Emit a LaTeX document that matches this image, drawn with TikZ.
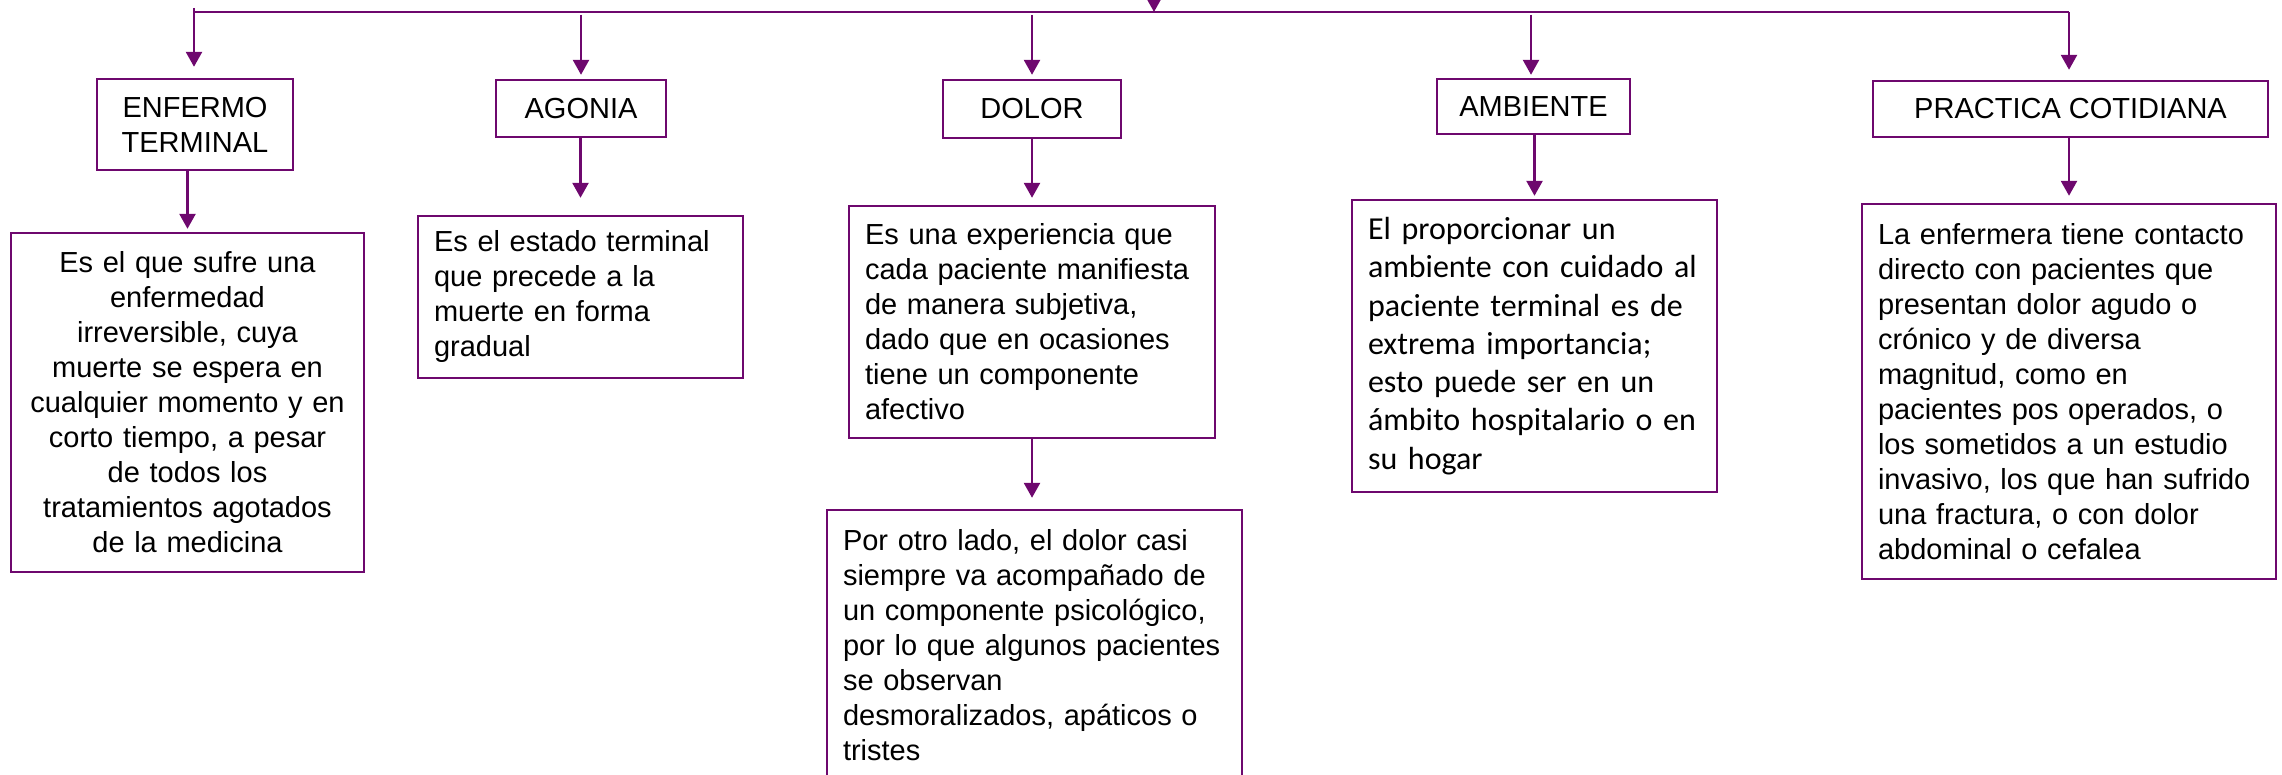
\documentclass[tikz,border=0pt]{standalone}
\usepackage{fontspec}
\setmainfont{Liberation Sans}
\newfontfamily\calibrifont{Carlito}
\usetikzlibrary{arrows.meta}

\definecolor{morado}{RGB}{110,8,110}

\begin{document}
\begin{tikzpicture}
  [x=1pt,y=-1pt,
   conn/.style={morado,line width=2.6pt},
   arr/.style={conn,-{Triangle[length=15pt,width=16pt]}},
   titulo/.style={draw=morado,line width=2.4pt,align=center,inner sep=0pt,
     font=\fontsize{29}{35}\selectfont},
   texto/.style={draw=morado,line width=2.4pt,align=left,inner xsep=16pt,inner ysep=0pt,
     font=\fontsize{29}{35}\selectfont}]
  \useasboundingbox (0,0) rectangle (2282,775);

  % titulos
  \node[titulo,minimum width=196pt,minimum height=91pt] (enf) at (195,124.5)  {ENFERMO\\TERMINAL};
  \node[titulo,minimum width=170pt,minimum height=57pt] (ago) at (581,108.5)  {AGONIA};
  \node[titulo,minimum width=178pt,minimum height=58pt] (dol) at (1032,109)   {DOLOR};
  \node[titulo,minimum width=193pt,minimum height=55pt] (amb) at (1533.5,106.5) {AMBIENTE};
  \node[titulo,minimum width=395pt,minimum height=56pt] (pra) at (2070.5,109) {PRACTICA COTIDIANA};

  % definiciones
  \node[texto,align=center,inner xsep=6pt,text width=341pt,minimum height=339pt] (enfd) at (187.5,402.5)
    {Es el que sufre una\\enfermedad\\irreversible, cuya\\muerte se espera en\\cualquier momento y en\\corto tiempo, a pesar\\de todos los\\tratamientos agotados\\de la medicina};
  \node[texto,text width=293pt,minimum height=162pt] (agod) at (580.5,297)
    {Es el estado terminal\\que precede a la\\muerte en forma\\gradual};
  \node[texto,text width=334pt,minimum height=232pt] (dold) at (1032,322)
    {Es una experiencia que\\cada paciente manifiesta\\de manera subjetiva,\\dado que en ocasiones\\tiene un componente\\afectivo};
  \node[texto,text width=383pt,minimum height=271pt] (dold2) at (1034.5,645.5)
    {Por otro lado, el dolor casi\\siempre va acompañado de\\un componente psicológico,\\por lo que algunos pacientes\\se observan\\desmoralizados, apáticos o\\tristes};
  \node[texto,text width=333pt,minimum height=292pt,font=\calibrifont\fontsize{32}{38.3}\selectfont] (ambd) at (1534.5,346)
    {El proporcionar un\\ambiente con cuidado al\\paciente terminal es de\\extrema importancia;\\esto puede ser en un\\ámbito hospitalario o en\\su hogar};
  \node[texto,text width=382pt,minimum height=375pt] (prad) at (2069,391.5)
    {La enfermera tiene contacto\\directo con pacientes que\\presentan dolor agudo o\\crónico y de diversa\\magnitud, como en\\pacientes pos operados, o\\los sometidos a un estudio\\invasivo, los que han sufrido\\una fractura, o con dolor\\abdominal o cefalea};

  % linea superior
  \coordinate (src) at (1154,-20);
  \coordinate (hub) at (1154,12);
  \coordinate (lineL) at (194,12);
  \coordinate (lineR) at (2069,12);
  \coordinate (t-enf) at (194,8);
  \coordinate (t-ago) at (581,15);
  \coordinate (t-dol) at (1032,15);
  \coordinate (t-amb) at (1531,15);
  \coordinate (t-pra) at (2069,12);
  \draw[arr] (src) -- (hub);
  \draw[conn,line width=2pt] (lineL) -- (lineR);

  \foreach \n/\g in {enf/11, ago/4, dol/4, amb/3, pra/10}
    \draw[arr,shorten >=\g pt] (t-\n) -- (t-\n |- \n.north);
  \foreach \a/\b/\g in {enf/enfd/3, ago/agod/17, dol/dold/7, amb/ambd/3, pra/prad/7}
    \draw[arr,shorten >=\g pt] (\b.north |- \a.south) -- (\b.north);
  \draw[arr,shorten >=11pt] (dold.south) -- (dold.south |- dold2.north);
\end{tikzpicture}
\end{document}
